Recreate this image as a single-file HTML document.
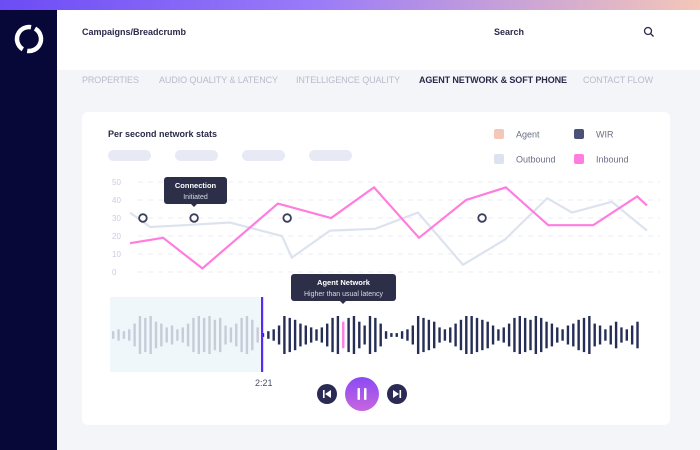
<!DOCTYPE html>
<html><head><meta charset="utf-8">
<style>
body{margin:0;width:700px;height:450px;overflow:hidden;background:#f4f5f9;font-family:"Liberation Sans",sans-serif;position:relative}
.abs{position:absolute}
.tab{position:absolute;top:75px;font-size:9px;color:#b8bccb;letter-spacing:-.1px}
</style></head><body>
<div class="abs" style="left:0;top:0;width:700px;height:10px;background:linear-gradient(90deg,#6c4cf5,#9a7bf8 45%,#f4c7b8)"></div>
<div class="abs" style="left:0;top:10px;width:57px;height:440px;background:#080838"></div>
<svg class="abs" style="left:12px;top:22px" width="34" height="34"><circle cx="17" cy="17" r="12" fill="none" stroke="#fff" stroke-width="4.5" stroke-dasharray="33 4.7" transform="rotate(-60 17 17)"/></svg>
<div class="abs" style="left:57px;top:10px;width:643px;height:60px;background:#fff"></div>
<div class="abs" style="left:82px;top:27px;font-size:9px;font-weight:bold;color:#2a2a4a">Campaigns/Breadcrumb</div>
<div class="abs" style="left:494px;top:27px;font-size:9px;font-weight:bold;color:#2a2a4a">Search</div>
<svg class="abs" style="left:643px;top:26px" width="12" height="12"><circle cx="5" cy="5" r="3.5" fill="none" stroke="#2a2a4a" stroke-width="1.3"/><line x1="7.5" y1="7.5" x2="10.5" y2="10.5" stroke="#2a2a4a" stroke-width="1.3"/></svg>
<div class="tab" style="left:82px">PROPERTIES</div>
<div class="tab" style="left:159px">AUDIO QUALITY &amp; LATENCY</div>
<div class="tab" style="left:296px">INTELLIGENCE QUALITY</div>
<div class="tab" style="left:419px;color:#2a2a4a;font-weight:bold">AGENT NETWORK &amp; SOFT PHONE</div>
<div class="tab" style="left:583px">CONTACT FLOW</div>
<div class="abs" style="left:82px;top:112px;width:588px;height:313px;background:#fff;border-radius:6px"></div>
<div class="abs" style="left:108px;top:129px;font-size:9px;font-weight:bold;color:#2a2a4a">Per second network stats</div>
<svg id="c" class="abs" style="left:0;top:0" width="700" height="450"></svg>
<script>
const yTicks=[0,10,20,30,40,50];
const tInbound=[0,6.4,14,28.6,38.9,47.2,55.9,65,72.7,80.9,89.6,98.1,100];
const inbound=[16,19,2,38,30,47,19,40,47,26,26,42,37];
const tOutbound=[0,3.9,10.6,19.3,29.4,31.3,38.7,47.4,55.7,64.4,72.5,80.7,85.5,93.2,100];
const outbound=[33,25,26,27.5,20,8,23,24,33,4,18,41,33,39,23];
const tMarkers=[2.5,12.4,30.4,68.1];
const markerVals=[30,30,30,30];
const amps=[2,3,2,3,6,10,9,10,7,6,4,5,3,4,6,9,10,9,10,8,9,5,4,6,9,10,8,4,1,2,3,5,10,9,8,6,5,4,3,4,6,9,10,7,9,10,7,5,10,9,6,2,1,1,2,3,5,10,9,8,7,4,3,4,6,8,10,10,9,8,7,5,3,4,6,9,10,9,8,10,9,7,6,4,3,5,6,8,9,10,6,5,3,5,7,4,3,5,7];
const playIndex=28, pinkIndex=43;
const svg=document.getElementById('c');const NS='http://www.w3.org/2000/svg';
function mk(t,a,p){const e=document.createElementNS(NS,t);for(const k in a)e.setAttribute(k,a[k]);(p||svg).appendChild(e);return e;}
const X=t=>130+t*5.17, Y=v=>272-v*1.8;
[[108,'pill-1'],[175,'pill-2'],[242,'pill-3'],[309,'pill-4']].forEach(([x,n])=>{const r=mk('rect',{x:x,y:150,width:43,height:11,rx:5.5,fill:'#e7eaf4'});});
[[494,129,'#f4c7b8','Agent'],[574,129,'#4b5278','WIR'],[494,154,'#dde3ee','Outbound'],[574,154,'#ff7ddf','Inbound']].forEach(([x,y,c,l])=>{const g=mk('g',{});mk('rect',{x:x,y:y,width:10,height:10,rx:2,fill:c},g);const t=mk('text',{x:x+22,y:y+8.5,'font-size':9,fill:'#6a6f86'},g);t.textContent=l;});
yTicks.forEach(v=>{const l=mk('line',{x1:138,x2:660,y1:Y(v),y2:Y(v),stroke:'#eceef4','stroke-dasharray':'5 5'});const t=mk('text',{x:112,y:Y(v)+3,'font-size':8,fill:'#c9cee0'});t.textContent=v;});
const pts=(ts,vs)=>ts.map((t,i)=>X(t)+','+Y(vs[i])).join(' ');
let l=mk('polyline',{points:pts(tOutbound,outbound),fill:'none',stroke:'#dde3ee','stroke-width':2.2});
l=mk('polyline',{points:pts(tInbound,inbound),fill:'none',stroke:'#ff7ddf','stroke-width':2.2});
tMarkers.forEach((t,i)=>{const c=mk('circle',{cx:X(t),cy:Y(markerVals[i]),r:3.8,fill:'#fff',stroke:'#3a3f5e','stroke-width':1.8});});
let r=mk('rect',{x:110,y:297,width:152,height:75,fill:'#eff7fb'});
amps.forEach((a,i)=>{const x=112+i*5.35,h=Math.max(2,a*3.8);const b=mk('rect',{x:x,y:335-h/2,width:2.4,height:h,fill:i===pinkIndex?'#ff7ddf':(i<playIndex?'#c8ccd8':'#262e55')});});
r=mk('rect',{x:261,y:297,width:2.2,height:75,fill:'#5a2af5'});
let t=mk('text',{x:255,y:386,'font-size':9,fill:'#4a4f66'});t.textContent='2:21';
function tip(x,y,w,h,px,a,b,n){const g=mk('g',{});mk('rect',{x:x,y:y,width:w,height:h,rx:3,fill:'#2d2f48'},g);mk('path',{d:`M${px-3},${y+h} L${px},${y+h+3} L${px+3},${y+h}Z`,fill:'#2d2f48'},g);let t1=mk('text',{x:x+w/2,y:y+11,'font-size':7.5,'font-weight':'bold',fill:'#fff','text-anchor':'middle'},g);t1.textContent=a;let t2=mk('text',{x:x+w/2,y:y+22,'font-size':7,fill:'#d8dae6','text-anchor':'middle'},g);t2.textContent=b;}
tip(164,177,63,27,194,'Connection','Initiated','tooltip-connection');
tip(291,274,105,27,343,'Agent Network','Higher than usual latency','tooltip-agent-network');
mk('defs',{}).innerHTML='<linearGradient id="pg" x1="0" y1="0" x2="0" y2="1"><stop offset="0" stop-color="#8a4af5"/><stop offset="1" stop-color="#c766de"/></linearGradient>';
let g=mk('g',{});mk('circle',{cx:327,cy:394,r:10,fill:'#2b2a55'},g);mk('rect',{x:323,y:390,width:1.6,height:8,fill:'#fff'},g);mk('path',{d:'M331,390 L325,394 L331,398Z',fill:'#fff'},g);
g=mk('g',{});mk('circle',{cx:362,cy:394,r:17,fill:'url(#pg)'},g);mk('rect',{x:357.5,y:388,width:2.5,height:12,rx:1,fill:'#fff'},g);mk('rect',{x:364,y:388,width:2.5,height:12,rx:1,fill:'#fff'},g);
g=mk('g',{});mk('circle',{cx:397,cy:394,r:10,fill:'#2b2a55'},g);mk('rect',{x:399.5,y:390,width:1.6,height:8,fill:'#fff'},g);mk('path',{d:'M393,390 L399,394 L393,398Z',fill:'#fff'},g);
</script>
</body></html>
